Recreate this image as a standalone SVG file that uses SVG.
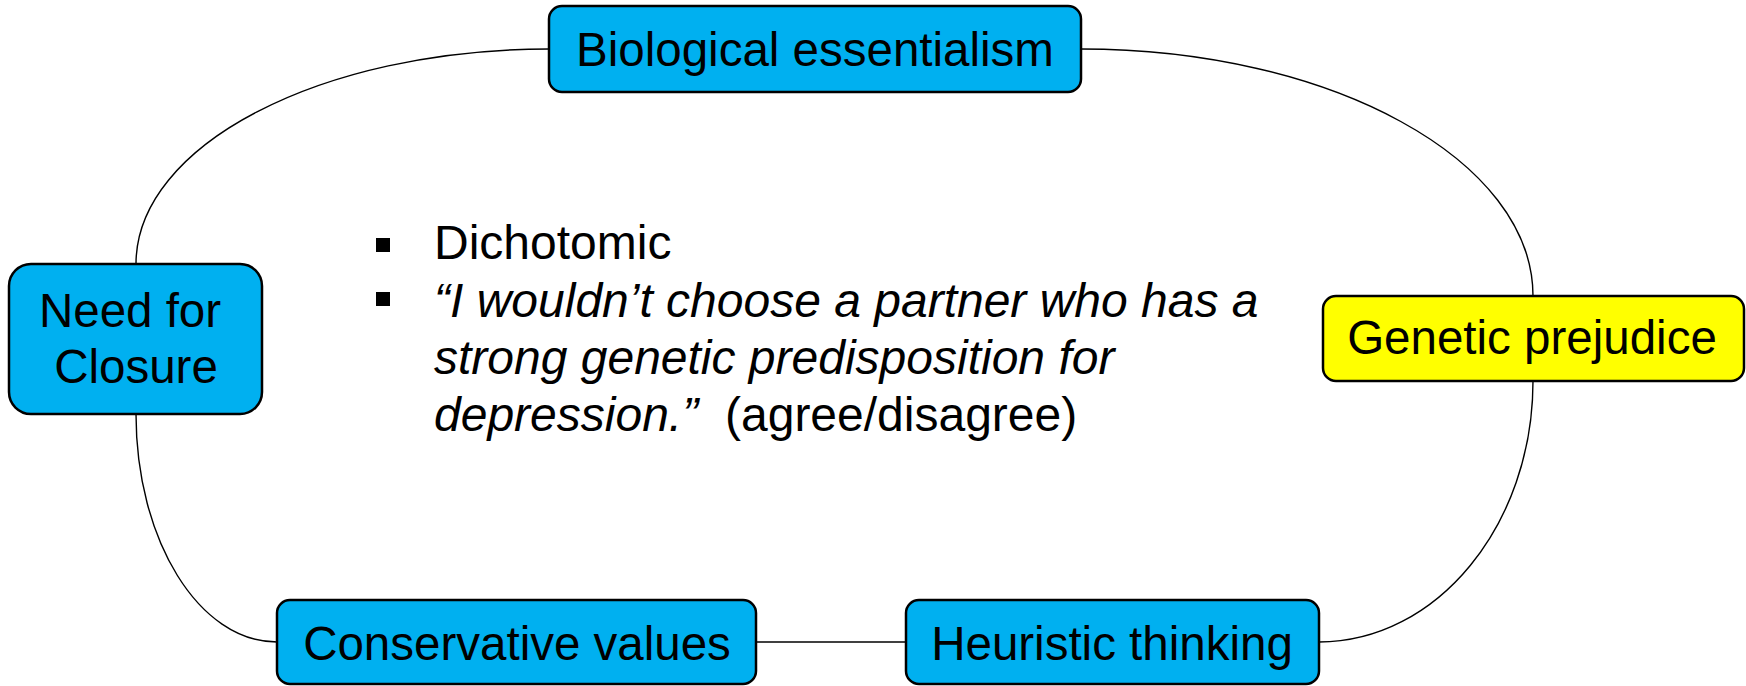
<svg xmlns="http://www.w3.org/2000/svg" width="1746" height="686" viewBox="0 0 1746 686">
<style>
.box{stroke:#000;stroke-width:2.5}
.blue{fill:#00B0F0}
.yellow{fill:#FFFF00}
.lbl{font-family:"Liberation Sans",Arial,sans-serif;font-size:47.5px;fill:#000;text-anchor:middle}
.body{font-family:"Liberation Sans",Arial,sans-serif;font-size:48px;fill:#000}
.conn{fill:none;stroke:#000;stroke-width:1.4}
</style>
<rect width="1746" height="686" fill="#fff"/>
<g id="connectors">
<path class="conn" d="M549 49 C321 49 136 145 136 264"/>
<path class="conn" d="M1081 49 C1331 49 1533 160 1533 296"/>
<path class="conn" d="M1533 381 C1533 525 1437 642 1319 642"/>
<path class="conn" d="M906 642 L756 642"/>
<path class="conn" d="M277 642 C199 642 136 540 136 414"/>
</g>
<g id="biological-essentialism">
<rect class="box blue" x="549" y="6" width="532" height="86" rx="13"/>
<text class="lbl" x="815" y="66">Biological essentialism</text>
</g>
<g id="need-for-closure">
<rect class="box blue" x="9" y="264" width="253" height="150" rx="22"/>
<text class="lbl" x="130" y="327">Need for</text>
<text class="lbl" x="136" y="383">Closure</text>
</g>
<g id="genetic-prejudice">
<rect class="box yellow" x="1323" y="296" width="421" height="85" rx="13"/>
<text class="lbl" x="1532" y="354">Genetic prejudice</text>
</g>
<g id="conservative-values">
<rect class="box blue" x="277" y="600" width="479" height="84" rx="13"/>
<text class="lbl" x="517" y="660">Conservative values</text>
</g>
<g id="heuristic-thinking">
<rect class="box blue" x="906" y="600" width="413" height="84" rx="13"/>
<text class="lbl" x="1112" y="660">Heuristic thinking</text>
</g>
<g id="center-text">
<rect x="376" y="238" width="14" height="14" fill="#000"/>
<rect x="376" y="292" width="14" height="14" fill="#000"/>
<text class="body" x="434" y="259">Dichotomic</text>
<text class="body" x="434" y="317" font-style="italic">“I wouldn’t choose a partner who has a</text>
<text class="body" x="434" y="374" font-style="italic">strong genetic predisposition for</text>
<text class="body" x="434" y="431"><tspan font-style="italic">depression.”</tspan><tspan x="725">(agree/disagree)</tspan></text>
</g>
</svg>
